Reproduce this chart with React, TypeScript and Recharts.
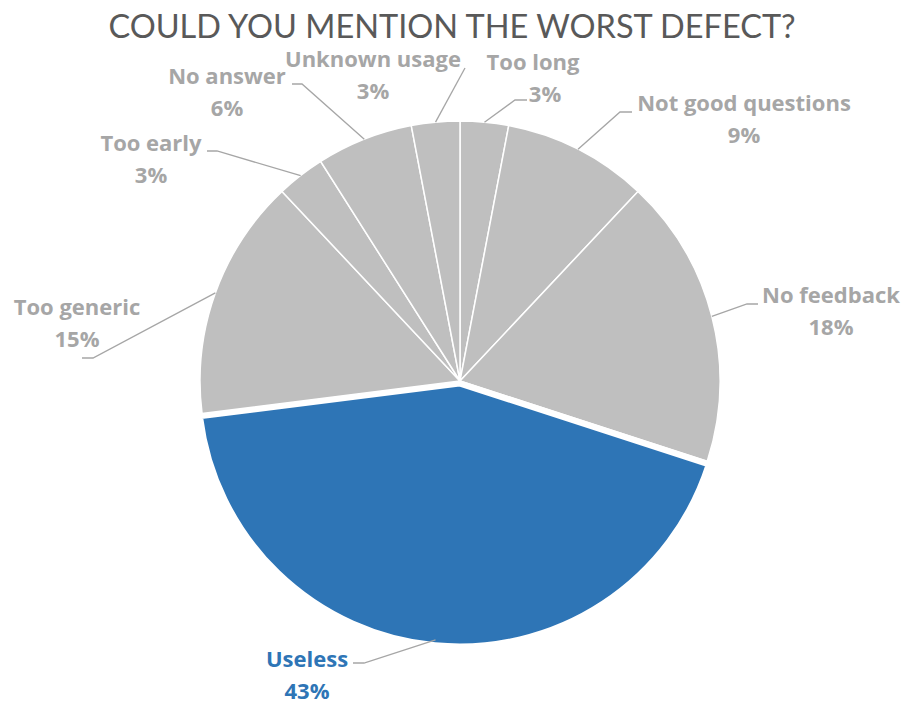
import React from 'react';
import { PieChart, Pie, Cell } from 'recharts';

const categories = [
  'Too long',
  'Not good questions',
  'No feedback',
  'Useless',
  'Too generic',
  'Too early',
  'No answer',
  'Unknown usage',
];
const shares = [3, 9, 18, 43, 15, 3, 6, 3];
const highlighted = 'Useless';

const data = categories.map((name, i) => ({ name, value: shares[i] }));

const GREY = '#BFBFBF';
const BLUE = '#2E75B6';
const LABEL_GREY = '#A6A6A6';
const TITLE_FONT = 'Lato, "Open Sans", sans-serif';
const LABEL_FONT = '"Open Sans", Lato, sans-serif';

// label boxes as Excel placed them: text centre, first baseline, leader elbow/end
const labelLayout: Record<string, { x: number; y: number; x2?: number; elbow?: [number, number]; end?: [number, number] }> = {
  'Too long': { x: 533, y: 70, x2: 545, elbow: [515, 100], end: [527, 100] },
  'Not good questions': { x: 744, y: 111, elbow: [620, 112], end: [632, 112] },
  'No feedback': { x: 831, y: 303, elbow: [747, 304], end: [758, 304] },
  Useless: { x: 307, y: 667, elbow: [364, 663], end: [353, 663] },
  'Too generic': { x: 77, y: 315, elbow: [93, 358], end: [82, 358] },
  'Too early': { x: 151, y: 151, elbow: [217, 151], end: [207, 151] },
  'No answer': { x: 227, y: 84, elbow: [302, 84], end: [292, 84] },
  'Unknown usage': { x: 373, y: 67, end: [465, 68] },
};

const RADIAN = Math.PI / 180;

const renderLabel = (props: any) => {
  const { cx, cy, midAngle, outerRadius, name, value } = props;
  const spot = labelLayout[name];
  if (!spot) return null;
  const sx = cx + outerRadius * Math.cos(-midAngle * RADIAN);
  const sy = cy + outerRadius * Math.sin(-midAngle * RADIAN);
  const pts: [number, number][] = [[sx, sy]];
  if (spot.elbow) pts.push(spot.elbow);
  if (spot.end) pts.push(spot.end);
  const color = name === highlighted ? BLUE : LABEL_GREY;
  return (
    <g>
      <polyline
        points={pts.map((p) => p.join(',')).join(' ')}
        fill="none"
        stroke={LABEL_GREY}
        strokeWidth={1.3}
      />
      <text x={spot.x} y={spot.y} textAnchor="middle" fill={color} fontSize={22} fontWeight={700} fontFamily={LABEL_FONT}>
        {name}
      </text>
      <text x={spot.x2 ?? spot.x} y={spot.y + 32} textAnchor="middle" fill={color} fontSize={22} fontWeight={700} fontFamily={LABEL_FONT}>
        {value}%
      </text>
    </g>
  );
};

export default function App() {
  // Recharts adds its 5px default margin to numeric cx / cy
  const cx = 455;
  const cy = 376;
  const radius = 260;

  // pull the highlighted slice out a little along its middle angle
  const total = shares.reduce((a, b) => a + b, 0);
  const idx = categories.indexOf(highlighted);
  const before = shares.slice(0, idx).reduce((a, b) => a + b, 0);
  const mid = ((before + shares[idx] / 2) / total) * 360;
  const pull = 4;
  const ox = Math.sin(mid * RADIAN) * pull;
  const oy = -Math.cos(mid * RADIAN) * pull;

  return (
    <div style={{ position: 'absolute', left: 0, top: 0, width: 904, height: 704, background: '#fff' }}>
      <div
        style={{
          position: 'absolute',
          top: 7,
          width: 904,
          textAlign: 'center',
          fontFamily: TITLE_FONT,
          fontSize: 32.5,
          color: '#595959',
          lineHeight: '38px',
        }}
      >
        COULD YOU MENTION THE WORST DEFECT?
      </div>
      <PieChart width={904} height={704} style={{ position: 'absolute', left: 0, top: 0 }}>
        <Pie
          data={data}
          dataKey="value"
          nameKey="name"
          cx={cx}
          cy={cy}
          outerRadius={radius}
          startAngle={90}
          endAngle={-270}
          stroke="#fff"
          strokeWidth={1.5}
          label={renderLabel}
          labelLine={false}
          isAnimationActive={false}
        >
          {data.map((d) => (
            <Cell key={d.name} fill={d.name === highlighted ? '#fff' : GREY} />
          ))}
        </Pie>
        <Pie
          data={data}
          dataKey="value"
          nameKey="name"
          cx={cx + ox}
          cy={cy + oy}
          outerRadius={radius}
          startAngle={90}
          endAngle={-270}
          isAnimationActive={false}
        >
          {data.map((d) => (
            <Cell
              key={d.name}
              fill={d.name === highlighted ? BLUE : 'none'}
              stroke={d.name === highlighted ? '#fff' : 'none'}
              strokeWidth={3}
            />
          ))}
        </Pie>
      </PieChart>
    </div>
  );
}
